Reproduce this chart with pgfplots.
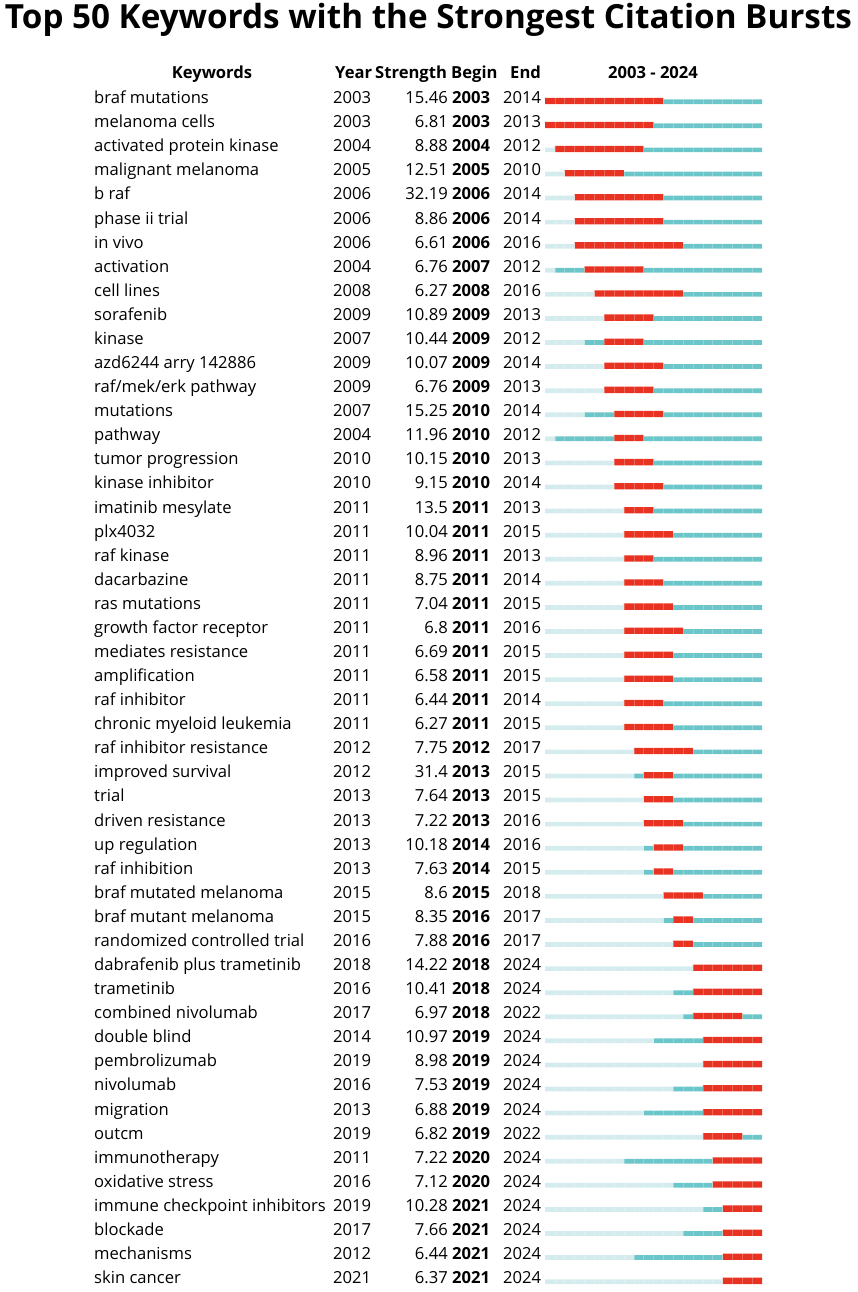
\documentclass[border=0pt]{standalone}
\usepackage{pgfplots}
\pgfplotsset{compat=1.18}
\usepackage{pgfplotstable}
\usepackage{fontspec}
\setmainfont{Open Sans}

\definecolor{burstred}{HTML}{E83323}
\definecolor{burstteal}{HTML}{6CC6C9}
\definecolor{burstlight}{HTML}{D5ECEE}

% keyword, first year, burst strength, burst begin, burst end
\pgfplotstableread[col sep=comma]{
kw,year,strength,begin,end
braf mutations,2003,15.46,2003,2014
melanoma cells,2003,6.81,2003,2013
activated protein kinase,2004,8.88,2004,2012
malignant melanoma,2005,12.51,2005,2010
b raf,2006,32.19,2006,2014
phase ii trial,2006,8.86,2006,2014
in vivo,2006,6.61,2006,2016
activation,2004,6.76,2007,2012
cell lines,2008,6.27,2008,2016
sorafenib,2009,10.89,2009,2013
kinase,2007,10.44,2009,2012
azd6244 arry 142886,2009,10.07,2009,2014
raf/mek/erk pathway,2009,6.76,2009,2013
mutations,2007,15.25,2010,2014
pathway,2004,11.96,2010,2012
tumor progression,2010,10.15,2010,2013
kinase inhibitor,2010,9.15,2010,2014
imatinib mesylate,2011,13.5,2011,2013
plx4032,2011,10.04,2011,2015
raf kinase,2011,8.96,2011,2013
dacarbazine,2011,8.75,2011,2014
ras mutations,2011,7.04,2011,2015
growth factor receptor,2011,6.8,2011,2016
mediates resistance,2011,6.69,2011,2015
amplification,2011,6.58,2011,2015
raf inhibitor,2011,6.44,2011,2014
chronic myeloid leukemia,2011,6.27,2011,2015
raf inhibitor resistance,2012,7.75,2012,2017
improved survival,2012,31.4,2013,2015
trial,2013,7.64,2013,2015
driven resistance,2013,7.22,2013,2016
up regulation,2013,10.18,2014,2016
raf inhibition,2013,7.63,2014,2015
braf mutated melanoma,2015,8.6,2015,2018
braf mutant melanoma,2015,8.35,2016,2017
randomized controlled trial,2016,7.88,2016,2017
dabrafenib plus trametinib,2018,14.22,2018,2024
trametinib,2016,10.41,2018,2024
combined nivolumab,2017,6.97,2018,2022
double blind,2014,10.97,2019,2024
pembrolizumab,2019,8.98,2019,2024
nivolumab,2016,7.53,2019,2024
migration,2013,6.88,2019,2024
outcm,2019,6.82,2019,2022
immunotherapy,2011,7.22,2020,2024
oxidative stress,2016,7.12,2020,2024
immune checkpoint inhibitors,2019,10.28,2021,2024
blockade,2017,7.66,2021,2024
mechanisms,2012,6.44,2021,2024
skin cancer,2021,6.37,2021,2024
}\bursts

\newcommand{\bodyfont}{\fontsize{16.6}{18}\selectfont}

\pgfplotsset{
  burstframe/.style={
    at={(545pt,-89.66pt)}, anchor=north west,
    x=9.864pt, y=24.08pt, y dir=reverse,
    xmin=0, xmax=22, ymin=-0.5, ymax=49.5,
  },
  textcol/.style={
    only marks, mark=none, point meta=explicit symbolic,
    nodes near coords,
    every node near coord/.append style={anchor=#1, inner sep=0pt, font=\bodyfont, text=black},
  },
}

\begin{document}
\begin{tikzpicture}
\path[use as bounding box] (0pt,0pt) rectangle (858pt,-1292pt);

\node[anchor=base, inner sep=0pt] at (428.5pt,-28.5pt)
  {\resizebox{847pt}{!}{\bfseries\fontsize{30}{32}\selectfont Top 50 Keywords with the Strongest Citation Bursts}};

\begin{scope}[every node/.style={inner sep=0pt, font=\bfseries\bodyfont}]
\node[anchor=base] at (212pt,-79pt) {Keywords};
\node[anchor=base west] at (335pt,-79pt) {Year};
\node[anchor=base west] at (375pt,-79pt) {Strength};
\node[anchor=base west] at (451pt,-79pt) {Begin};
\node[anchor=base west] at (510pt,-79pt) {End};
\node[anchor=base] at (653pt,-79pt) {2003 - 2024};
\end{scope}

% burst bars
\begin{axis}[
  burstframe,
  xbar stacked, bar width=4.7pt,
  axis line style={draw=none},
  xtick={1,...,21}, xticklabels={}, ytick=\empty,
  major tick length=0pt,
  xmajorgrids, grid style={white, opacity=0.25, line width=0.5pt},
  axis on top,
]
\addplot[fill=burstlight, draw=none] table[x expr=\thisrow{year}-2003, y expr=\coordindex] \bursts;
\addplot[fill=burstteal, draw=none] table[x expr=\thisrow{begin}-\thisrow{year}, y expr=\coordindex] \bursts;
\addplot[fill=burstred, draw=none, bar width=6.3pt, bar shift=0.8pt] table[x expr=\thisrow{end}+1-\thisrow{begin}, y expr=\coordindex] \bursts;
\addplot[fill=burstteal, draw=none] table[x expr=2024-\thisrow{end}, y expr=\coordindex] \bursts;
\end{axis}

% text columns
\begin{axis}[burstframe, hide axis, clip=false]
\addplot[textcol=base west] table[x expr=-45.72, y expr=\coordindex+0.08, meta=kw] \bursts;
\addplot[textcol=base west] table[x expr=-21.49, y expr=\coordindex+0.08, meta=year] \bursts;
\addplot[textcol=base east] table[x expr=-9.83, y expr=\coordindex+0.08, meta=strength] \bursts;
\addplot[textcol=base west, every node near coord/.append style={font=\bfseries\bodyfont}] table[x expr=-9.43, y expr=\coordindex+0.08, meta=begin] \bursts;
\addplot[textcol=base west] table[x expr=-4.26, y expr=\coordindex+0.08, meta=end] \bursts;
\end{axis}
\end{tikzpicture}
\end{document}
